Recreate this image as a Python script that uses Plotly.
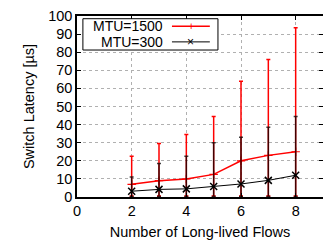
import plotly.graph_objects as go

flows = [2, 3, 4, 5, 6, 7, 8]
mtu1500_mean = [7.0, 9.0, 10.0, 12.5, 20.0, 23.0, 25.0]
mtu1500_high = [22.5, 29.5, 34.5, 44.5, 64.0, 76.0, 93.5]
mtu1500_low = [0.5, 0.5, 0.5, 0.5, 0.5, 0.5, 0.5]
mtu300_mean = [3.2, 4.2, 4.5, 5.8, 7.2, 9.2, 12.0]
mtu300_high = [11.0, 18.5, 22.5, 30.0, 33.0, 38.5, 44.5]
mtu300_low = [0.3, 0.3, 0.3, 0.3, 0.3, 0.3, 0.3]

x_ticks = [0, 2, 4, 6, 8]
y_ticks = list(range(0, 101, 10))

font = "Liberation Sans, Arial, sans-serif"
fs = 14.5

fig = go.Figure()
fig.add_trace(go.Scatter(
    x=flows, y=mtu1500_mean, mode="lines+markers", name="MTU=1500",
    line=dict(color="#ff0000", width=1.5),
    marker=dict(symbol="cross-thin", size=6, line=dict(color="#ff0000", width=1.2)),
    error_y=dict(type="data", symmetric=False,
                 array=[h - m for h, m in zip(mtu1500_high, mtu1500_mean)],
                 arrayminus=[m - l for m, l in zip(mtu1500_mean, mtu1500_low)],
                 color="#ff0000", thickness=1.5, width=2),
    showlegend=False,
))
fig.add_trace(go.Scatter(
    x=flows, y=mtu300_mean, mode="lines+markers", name="MTU=300",
    line=dict(color="#000000", width=1),
    marker=dict(symbol="x-thin", size=7, line=dict(color="#000000", width=1.5)),
    error_y=dict(type="data", symmetric=False,
                 array=[h - m for h, m in zip(mtu300_high, mtu300_mean)],
                 arrayminus=[m - l for m, l in zip(mtu300_mean, mtu300_low)],
                 color="rgba(0,0,0,0.75)", thickness=1.5, width=2),
    showlegend=False,
))

axis_common = dict(
    showline=True, linecolor="#000000", linewidth=1.5, mirror="ticks",
    ticks="inside", ticklen=4, tickcolor="#000000",
    showgrid=True, gridcolor="#b0b0b0", griddash="dot", gridwidth=1,
    zeroline=False, tickfont=dict(family=font, size=fs, color="#000000"),
    automargin=False,
)

fig.update_xaxes(range=[0, 9], tickvals=x_ticks,
                 title=dict(text="Number of Long-lived Flows", font=dict(family=font, size=fs, color="#000000"), standoff=10),
                 **axis_common)
fig.update_yaxes(range=[0, 100], tickvals=y_ticks,
                 title=dict(text="Switch Latency [µs]", font=dict(family=font, size=fs, color="#000000"), standoff=10),
                 **axis_common)

# manual gnuplot-style legend (paper coordinates)
row1, row2 = 0.943, 0.857
shapes = [
    dict(type="rect", xref="paper", yref="paper", x0=0.024, x1=0.573, y0=0.812, y1=0.985,
         line=dict(color="#000000", width=1), fillcolor="white"),
    dict(type="line", xref="paper", yref="paper", x0=0.386, x1=0.54, y0=row1, y1=row1,
         line=dict(color="#ff0000", width=1.5)),
    dict(type="line", xref="paper", yref="paper", x0=0.386, x1=0.54, y0=row2, y1=row2,
         line=dict(color="#000000", width=1)),
]
ann_font = dict(family=font, size=14, color="#000000")
annotations = [
    dict(text="MTU=1500", xref="paper", yref="paper", x=0.352, y=row1, xanchor="right", yanchor="middle",
         showarrow=False, font=ann_font, borderpad=0, height=12),
    dict(text="MTU=300", xref="paper", yref="paper", x=0.352, y=row2, xanchor="right", yanchor="middle",
         showarrow=False, font=ann_font, borderpad=0, height=12),
    dict(text="+", xref="paper", yref="paper", x=0.463, y=row1 + 0.002, xanchor="center", yanchor="middle",
         showarrow=False, font=dict(family=font, size=11, color="#ff0000"), borderpad=0, height=10),
    dict(text="×", xref="paper", yref="paper", x=0.463, y=row2, xanchor="center", yanchor="middle",
         showarrow=False, font=dict(family=font, size=12, color="#000000"), borderpad=0, height=10),
]

fig.update_layout(
    width=323, height=240,
    margin=dict(l=77, r=0, t=16, b=43),
    paper_bgcolor="white", plot_bgcolor="white",
    shapes=shapes, annotations=annotations,
    font=dict(family=font, size=fs, color="#000000"),
)

fig.write_html("out.html", config={"displayModeBar": False},
               post_script="document.body.style.margin='0';document.body.style.overflow='hidden';")
